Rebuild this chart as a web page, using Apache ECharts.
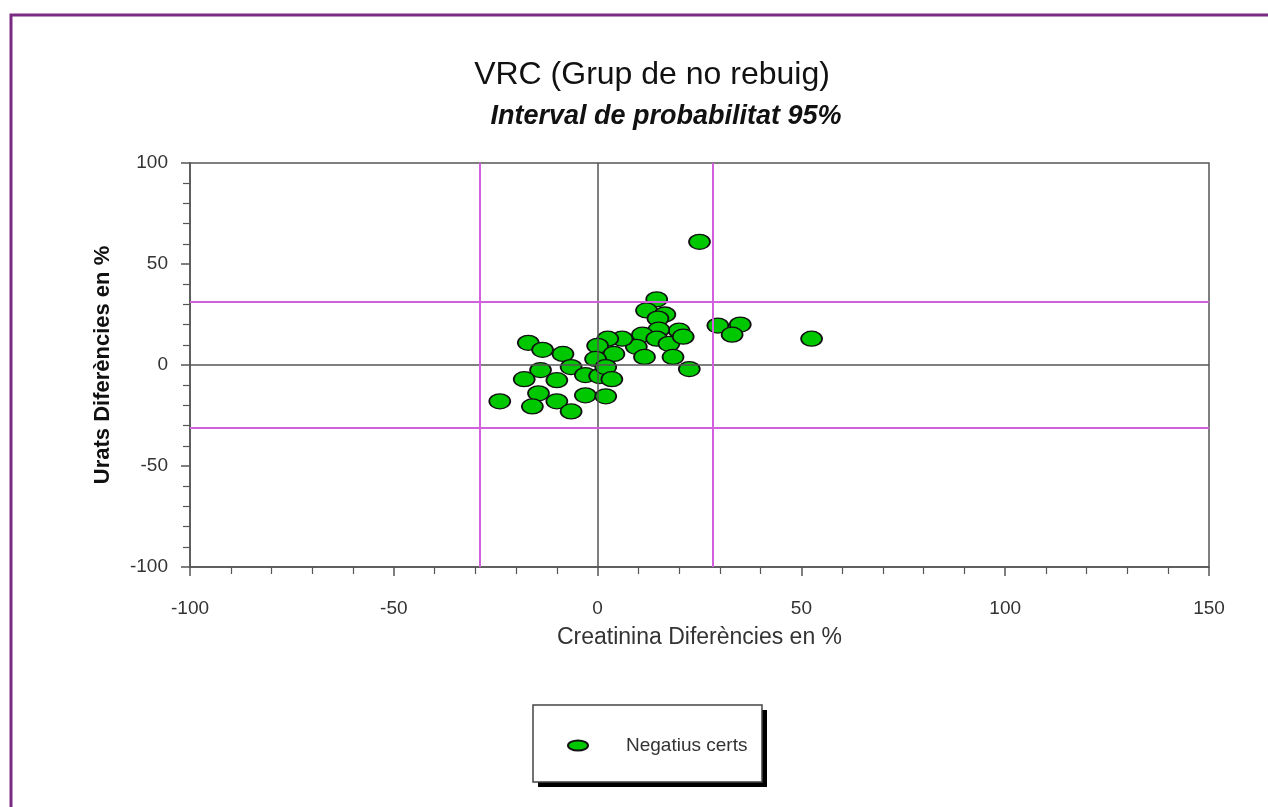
<!DOCTYPE html>
<html>
<head>
<meta charset="utf-8">
<script src="https://cdn.jsdelivr.net/npm/echarts@6/dist/echarts.min.js"></script>
<style>
  html, body { margin: 0; padding: 0; background: #ffffff; }
  #chart { width: 1268px; height: 807px; }
</style>
</head>
<body>
<div id="chart"></div>
<script>
// Percent differences between paired measurements (creatinine on x, urate on y)
const creatinineDiff = [
  25, 14.5, 12, 16.5, 14.8, 29.5, 35, 33, 52.5, 20, 15, 11, 14.5, 17.5, 21,
  9.5, 6, 2.5, 0, 4, -0.5, 11.5, 18.5, 22.5,
  -17, -13.5, -8.5, -14, -18, -10, -6.5, -3, 0.5, 2, 3.5,
  -24, -14.5, -16, -10, -6.5, -3, 2
];
const urateDiff = [
  61, 32.5, 27, 25, 23, 19.5, 20, 15, 13, 17, 17.5, 15, 13, 10.5, 14,
  9, 13, 13, 9.5, 5.5, 3, 4, 4, -2,
  11, 7.5, 5.5, -2.5, -7, -7.5, -1, -5, -5.5, -1, -7,
  -18, -14, -20.5, -18, -23, -15, -15.5
];

// 95% probability interval limits
const creatinineLimits = [-29, 28.2];
const urateLimits = [31.5, -31];

const xTicks = [-100, -50, 0, 50, 100, 150];
const yTicks = [-100, -50, 0, 50, 100];

const titleText = 'VRC (Grup de no rebuig)';
const subtitleText = 'Interval de probabilitat 95%';
const seriesName = 'Negatius certs';

const points = creatinineDiff.map((x, i) => [x, urateDiff[i]]);

const ellipse = 'path://M0,5a10,5 0 1,0 20,0a10,5 0 1,0 -20,0z';
const axisGrey = '#555555';
const limitPink = '#d060dc';
const font = 'Liberation Sans, Arial, sans-serif';

const chart = echarts.init(document.getElementById('chart'), null, { renderer: 'canvas' });

const refLines = [{ xAxis: 0, lineStyle: { color: axisGrey, width: 1.5, type: 'solid' } },
                  { yAxis: 0, lineStyle: { color: axisGrey, width: 1.5, type: 'solid' } }]
  .concat(creatinineLimits.map(v => ({ xAxis: v, lineStyle: { color: limitPink, width: 2, type: 'solid' } })))
  .concat(urateLimits.map(v => ({ yAxis: v, lineStyle: { color: limitPink, width: 2, type: 'solid' } })));

chart.setOption({
  backgroundColor: '#ffffff',
  animation: false,
  graphic: [{
    // outer frame
    type: 'rect',
    shape: { x: 11, y: 15, width: 1400, height: 900 },
    style: { fill: null, stroke: '#7a2a80', lineWidth: 3 },
    silent: true,
    z: -1
  }, {
    // legend box drop shadow
    type: 'rect',
    shape: { x: 538, y: 710, width: 229, height: 77 },
    style: { fill: '#000000' },
    silent: true,
    z: 0
  }, {
    // legend box
    type: 'rect',
    shape: { x: 533, y: 705, width: 229, height: 77 },
    style: { fill: '#ffffff', stroke: '#444444', lineWidth: 1.5 },
    silent: true,
    z: 1
  }],
  title: [{
    text: titleText,
    left: 652, top: 59, padding: 0, textAlign: 'center',
    textStyle: { fontFamily: font, fontSize: 32, fontWeight: 'normal', color: '#111111' }
  }, {
    text: subtitleText,
    left: 666, top: 103, padding: 0, textAlign: 'center',
    textStyle: { fontFamily: font, fontSize: 27, fontWeight: 'bold', fontStyle: 'italic', color: '#111111' }
  }],
  legend: {
    data: [{ name: seriesName, icon: ellipse }],
    left: 567, top: 736,
    orient: 'horizontal',
    itemWidth: 20, itemHeight: 10,
    padding: 0,
    textStyle: { fontFamily: font, fontSize: 19, color: '#333333', padding: [0, 0, 0, 33] }
  },
  grid: {
    left: 190, right: 59, top: 163, bottom: 240,
    show: true, borderColor: axisGrey, borderWidth: 1.5, backgroundColor: 'transparent'
  },
  xAxis: {
    type: 'value',
    min: xTicks[0], max: xTicks[xTicks.length - 1], interval: 50,
    name: 'Creatinina Diferències en %',
    nameLocation: 'middle', nameGap: 59,
    nameTextStyle: { fontFamily: font, fontSize: 23, color: '#333333' },
    axisLine: { show: true, onZero: false, lineStyle: { color: axisGrey, width: 1.5 } },
    axisTick: { show: true, inside: false, length: 9, lineStyle: { color: axisGrey, width: 1.5 } },
    minorTick: { show: true, splitNumber: 5, length: 7, lineStyle: { color: axisGrey, width: 1.2 } },
    axisLabel: { fontFamily: font, fontSize: 19, color: '#333333', margin: 32 },
    splitLine: { show: false }
  },
  yAxis: {
    type: 'value',
    min: yTicks[0], max: yTicks[yTicks.length - 1], interval: 50,
    name: 'Urats Diferències en %',
    nameLocation: 'middle', nameGap: 76, nameRotate: 90,
    nameTextStyle: { fontFamily: font, fontSize: 22, fontWeight: 'bold', color: '#111111' },
    axisLine: { show: true, onZero: false, lineStyle: { color: axisGrey, width: 1.5 } },
    axisTick: { show: true, inside: false, length: 9, lineStyle: { color: axisGrey, width: 1.5 } },
    minorTick: { show: true, splitNumber: 5, length: 7, lineStyle: { color: axisGrey, width: 1.2 } },
    axisLabel: { fontFamily: font, fontSize: 19, color: '#333333', margin: 22 },
    splitLine: { show: false }
  },
  series: [{
    name: 'limits',
    type: 'scatter',
    data: [],
    z: 1,
    silent: true,
    markLine: { symbol: 'none', silent: true, label: { show: false }, animation: false, data: refLines }
  }, {
    name: seriesName,
    type: 'scatter',
    z: 3,
    symbol: ellipse,
    symbolSize: [21, 15],
    itemStyle: { color: '#00c800', borderColor: '#111111', borderWidth: 1.5, opacity: 1 },
    data: points
  }]
});
</script>
</body>
</html>
